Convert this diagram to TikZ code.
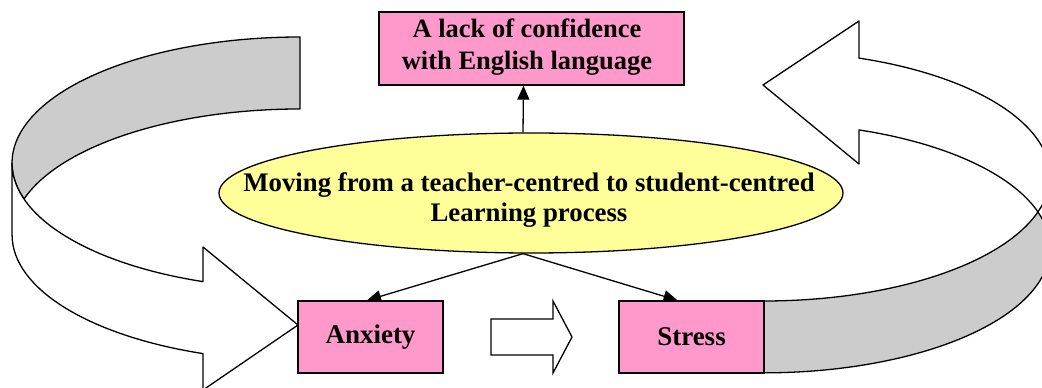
\documentclass[tikz,border=0pt]{standalone}
\usepackage{fontspec}
\setmainfont{Liberation Serif}
\usetikzlibrary{shapes.geometric,arrows.meta}
\definecolor{boxpink}{HTML}{FF99CC}
\definecolor{ellyellow}{HTML}{FFFF99}
\definecolor{bandgray}{HTML}{CCCCCC}
\begin{document}
\begin{tikzpicture}[x=1pt,y=1pt,
  outl/.style={draw=black,line width=1.3pt,line join=miter},
  band/.style={outl,line join=round},
  pinkbox/.style={outl,fill=boxpink,minimum width=145pt,minimum height=72pt,inner sep=0pt,
    font=\fontsize{27}{31}\selectfont\bfseries},
  conn/.style={line width=1.3pt,-{Triangle[length=14pt,width=12pt]}},
  lbl/.style={align=center,font=\fontsize{26.8}{30}\selectfont\bfseries,inner sep=0pt}
  ]
\useasboundingbox (0,0) rectangle (1042,388);
\clip (0,0) rectangle (1042,388);
% left curved arrow: back (gray) face
\filldraw[band,fill=bandgray] (300,351)
  arc[start angle=90,end angle=196.6,x radius=288,y radius=126]
  arc[start angle=163.4,end angle=90,x radius=288,y radius=126] -- cycle;
% left curved arrow: front (white) face with head
\filldraw[band,fill=white] (12,225)
  arc[start angle=180,end angle=250.3,x radius=288,y radius=126]
  -- (203,141) -- (298,63) -- (203,-2) -- (203,34.4)
  arc[start angle=250.3,end angle=180,x radius=288,y radius=126] -- cycle;
% right curved arrow: front (gray) face
\filldraw[band,fill=bandgray] (764,87)
  arc[start angle=-90,end angle=-16.7,x radius=286,y radius=125]
  arc[start angle=16.7,end angle=-90,x radius=286,y radius=125] -- cycle;
% right curved arrow: back (white) face with head
\filldraw[band,fill=white] (859,329.9)
  arc[start angle=70.6,end angle=-16.7,x radius=286,y radius=125]
  arc[start angle=16.7,end angle=70.6,x radius=286,y radius=125]
  -- (859,224) -- (763,303) -- (859,367) -- cycle;
% middle block arrow
\filldraw[outl,fill=white] (491,33) -- (553,33) -- (553,15) -- (572,51) -- (553,87) -- (553,69) -- (491,69) -- cycle;
% nodes
\node[outl,ellipse,fill=ellyellow,minimum width=624pt,minimum height=120pt,inner sep=0pt] (mid) at (531,195) {};
\node[lbl] (midtext) at (529,188) {Moving from a teacher-centred to student-centred\\Learning process};
\node[pinkbox,minimum width=305pt,minimum height=73pt] (top) at (531.5,339.5) {};
\node[lbl,font=\fontsize{26.5}{32}\selectfont\bfseries] (toptext) at (527,341) {A lack of confidence\\with English language};
\node[pinkbox] (anx) at (370.5,51) {Anxiety};
\node[pinkbox] (str) at (691.5,51) {Stress};
% connectors
\draw[conn] ([xshift=-8pt]mid.north) -- ([xshift=-8pt]top.south);
\draw[conn] ([xshift=-8pt]mid.south) -- ([xshift=-3.5pt]anx.north);
\draw[conn] ([xshift=-8pt]mid.south) -- ([xshift=-14pt]str.north);
\end{tikzpicture}
\end{document}
